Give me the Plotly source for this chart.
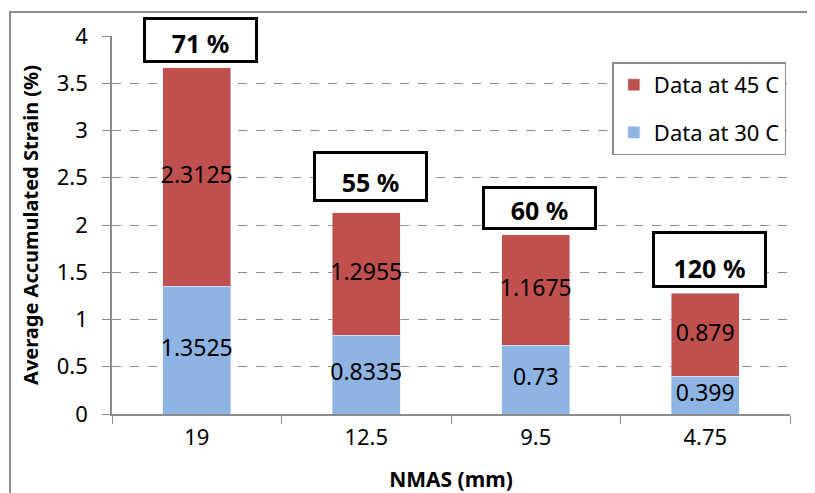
import plotly.graph_objects as go

categories = ["19", "12.5", "9.5", "4.75"]
data_30 = [1.3525, 0.8335, 0.73, 0.399]
data_45 = [2.3125, 1.2955, 1.1675, 0.879]
pct_labels = ["71 %", "55 %", "60 %", "120 %"]
pct_y = [3.96, 2.51, 2.175, 1.64]
pct_h = [40, 45, 38, 51]

FONT = "Noto Sans"
RED = "#C0504D"
BLUE = "#8EB4E3"

fig = go.Figure()
fig.add_trace(go.Bar(x=categories, y=data_30, name="Data at 30 C", marker_color=BLUE,
                     width=0.4, legendgroup="a", legendrank=2, hoverinfo="y"))
fig.add_trace(go.Bar(x=categories, y=data_45, name="Data at 45 C", marker_color=RED,
                     width=0.4, legendgroup="b", legendrank=1, hoverinfo="y"))

lab_x = categories + categories
lab_y = [v / 2 for v in data_30] + [a + b / 2 for a, b in zip(data_30, data_45)]
lab_t = [str(v) for v in data_30] + [str(v) for v in data_45]
fig.add_trace(go.Scatter(x=lab_x, y=lab_y, text=lab_t, mode="text", showlegend=False,
                         textfont=dict(family=FONT, size=23, color="black"), hoverinfo="skip"))

for i, (t, y, h) in enumerate(zip(pct_labels, pct_y, pct_h)):
    fig.add_annotation(x=i, y=y, xref="x", yref="y", text="<b>%s</b>" % t, showarrow=False,
                       xshift=4, font=dict(family=FONT, size=25, color="black"),
                       bgcolor="white", bordercolor="black", borderwidth=3, borderpad=0,
                       width=109, height=h, valign="bottom")

fig.add_shape(type="rect", xref="paper", yref="paper", x0=-0.1504, y0=-0.4, x1=1.2, y1=1.0635,
              line=dict(color="#8c8c8c", width=2), layer="below")

fig.update_layout(
    barmode="stack",
    width=815, height=493,
    margin=dict(l=104, r=33, t=28, b=87, autoexpand=False),
    paper_bgcolor="white", plot_bgcolor="white",
    font=dict(family=FONT, size=22, color="black"),
    showlegend=True,
    legend=dict(x=0.738, y=0.93, xanchor="left", yanchor="top",
                bordercolor="#8c8c8c", borderwidth=1.5, bgcolor="white",
                traceorder="grouped", tracegroupgap=16,
                font=dict(family=FONT, size=22), itemwidth=30),
    xaxis=dict(showline=True, linecolor="#8c8c8c", linewidth=1.5, automargin=False,
               ticks="outside", ticklen=8, tickcolor="#8c8c8c", tickson="boundaries",
               ticklabelstandoff=3,
               tickfont=dict(family=FONT, size=22),
               title=dict(text="<b>NMAS (mm)</b>", font=dict(family=FONT, size=21), standoff=22)),
    yaxis=dict(range=[0, 4], dtick=0.5, showline=True, linecolor="#8c8c8c", linewidth=1.5,
               automargin=False, ticklabelstandoff=10,
               ticks="outside", ticklen=8, tickcolor="#8c8c8c",
               showgrid=True, gridcolor="#8c8c8c", griddash="dash", gridwidth=1,
               zeroline=False, tickfont=dict(family=FONT, size=22),
               title=dict(text="<b>Average Accumulated Strain (%)</b>",
                          font=dict(family=FONT, size=20), standoff=13)),
)

fig.write_html("out.html")
